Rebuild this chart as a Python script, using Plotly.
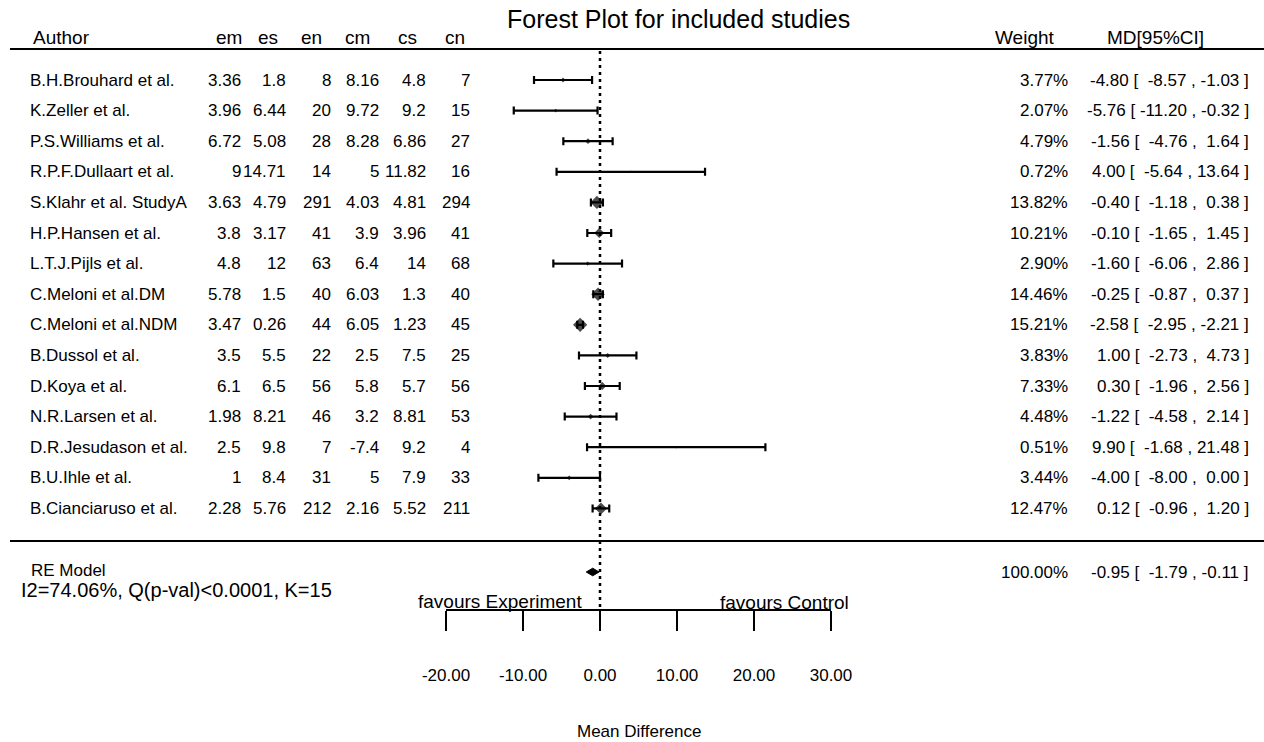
import plotly.graph_objects as go

# ---------------- data ----------------
authors = ["B.H.Brouhard et al.", "K.Zeller et al.", "P.S.Williams et al.", "R.P.F.Dullaart et al.",
           "S.Klahr et al. StudyA", "H.P.Hansen et al.", "L.T.J.Pijls et al.", "C.Meloni et al.DM",
           "C.Meloni et al.NDM", "B.Dussol et al.", "D.Koya et al.", "N.R.Larsen et al.",
           "D.R.Jesudason et al.", "B.U.Ihle et al.", "B.Cianciaruso et al."]
em = [3.36, 3.96, 6.72, 9, 3.63, 3.8, 4.8, 5.78, 3.47, 3.5, 6.1, 1.98, 2.5, 1, 2.28]
es = [1.8, 6.44, 5.08, 14.71, 4.79, 3.17, 12, 1.5, 0.26, 5.5, 6.5, 8.21, 9.8, 8.4, 5.76]
en = [8, 20, 28, 14, 291, 41, 63, 40, 44, 22, 56, 46, 7, 31, 212]
cm = [8.16, 9.72, 8.28, 5, 4.03, 3.9, 6.4, 6.03, 6.05, 2.5, 5.8, 3.2, -7.4, 5, 2.16]
cs = [4.8, 9.2, 6.86, 11.82, 4.81, 3.96, 14, 1.3, 1.23, 7.5, 5.7, 8.81, 9.2, 7.9, 5.52]
cn = [7, 15, 27, 16, 294, 41, 68, 40, 45, 25, 56, 53, 4, 33, 211]
weight = [3.77, 2.07, 4.79, 0.72, 13.82, 10.21, 2.90, 14.46, 15.21, 3.83, 7.33, 4.48, 0.51, 3.44, 12.47]
md = [-4.80, -5.76, -1.56, 4.00, -0.40, -0.10, -1.60, -0.25, -2.58, 1.00, 0.30, -1.22, 9.90, -4.00, 0.12]
ci_lo = [-8.57, -11.20, -4.76, -5.64, -1.18, -1.65, -6.06, -0.87, -2.95, -2.73, -1.96, -4.58, -1.68, -8.00, -0.96]
ci_hi = [-1.03, -0.32, 1.64, 13.64, 0.38, 1.45, 2.86, 0.37, -2.21, 4.73, 2.56, 2.14, 21.48, 0.00, 1.20]

re_md = -0.95
re_lo = -1.79
re_hi = -0.11
re_weight = 100.00
re_stats = "I2=74.06%, Q(p-val)<0.0001, K=15"

col_headers = ["em", "es", "en", "cm", "cs", "cn"]
tick_values = [-20, -10, 0, 10, 20, 30]

# ---------------- layout helpers ----------------
W, H = 1264, 742
FONT = "Liberation Sans, Arial, sans-serif"
ROW0, DROW = 80.0, 30.6


def yrow(px):
    return (px - ROW0) / DROW


def px_x(px):
    return px / W


def px_y(px):
    return 1 - px / H


rows = list(range(len(authors)))
summary_row = yrow(572)
NB = "\u00a0"

fig = go.Figure()

# study estimates with CIs
fig.add_trace(go.Scatter(
    x=md, y=rows, mode="markers",
    marker=dict(symbol="diamond", color="black",
                size=[0.62 * w + 1.5 for w in weight], line=dict(width=0)),
    error_x=dict(type="data", symmetric=False,
                 array=[h - m for h, m in zip(ci_hi, md)],
                 arrayminus=[m - l for m, l in zip(md, ci_lo)],
                 color="black", thickness=2.2, width=4),
    hoverinfo="skip", showlegend=False, cliponaxis=False,
))

# summary diamond
hh = 3.8 / DROW
fig.add_trace(go.Scatter(
    x=[re_lo, re_md, re_hi, re_md, re_lo],
    y=[summary_row, summary_row - hh, summary_row, summary_row + hh, summary_row],
    mode="lines", fill="toself", fillcolor="black",
    line=dict(color="black", width=1), hoverinfo="skip", showlegend=False,
))

shapes = [
    dict(type="line", xref="paper", yref="paper", x0=px_x(10), x1=1, y0=px_y(49), y1=px_y(49),
         line=dict(color="black", width=2)),
    dict(type="line", xref="paper", yref="paper", x0=px_x(10), x1=1, y0=px_y(541), y1=px_y(541),
         line=dict(color="black", width=2)),
    dict(type="line", xref="x", yref="y", x0=0, x1=0, y0=yrow(51), y1=yrow(610),
         line=dict(color="black", width=2.5, dash="3px,4px")),
]

ann = []


def add_text(text, x, y, size=17, xanchor="center", yref="paper"):
    ann.append(dict(text=text, x=x, y=y, xref="paper", yref=yref, showarrow=False,
                    xanchor=xanchor, yanchor="middle",
                    font=dict(family=FONT, size=size, color="black")))


# title and headers
add_text("Forest Plot for included studies", px_x(678), px_y(19), size=25)
add_text("Author", px_x(31), px_y(37), size=19, xanchor="left")
hdr_centers = [229, 268, 311, 357, 407, 455]
for h, c in zip(col_headers, hdr_centers):
    add_text(h, px_x(c), px_y(37), size=19)
add_text("Weight", px_x(1025), px_y(37), size=19)
add_text("MD[95%CI]", px_x(1155), px_y(37), size=19)

# table rows
col_right = [243, 288, 333, 381, 428, 472]
cols = [em, es, en, cm, cs, cn]


def fmt(v):
    return f"{v:g}"


def fmt_ci(m, l, h):
    s = f"{m:.2f} [ {l:6.2f} , {h:5.2f} ]"
    return s.replace(" ", NB)


for i, a in enumerate(authors):
    add_text(a, px_x(28), rows[i], xanchor="left", yref="y")
    for col, xr in zip(cols, col_right):
        add_text(fmt(col[i]), px_x(xr), rows[i], xanchor="right", yref="y")
    add_text(f"{weight[i]:.2f}%", px_x(1070), rows[i], xanchor="right", yref="y")
    add_text(fmt_ci(md[i], ci_lo[i], ci_hi[i]), px_x(1251), rows[i], xanchor="right", yref="y")

# summary
add_text("RE Model", px_x(29), px_y(570), size=17, xanchor="left")
add_text(re_stats, px_x(19), px_y(590), size=20, xanchor="left")
add_text(f"{re_weight:.2f}%", px_x(1070), summary_row, xanchor="right", yref="y")
add_text(fmt_ci(re_md, re_lo, re_hi), px_x(1251), summary_row, xanchor="right", yref="y")

# axis annotations
add_text("favours Experiment", px_x(416), px_y(601), size=19, xanchor="left")
add_text("favours Control", px_x(851), px_y(602), size=19, xanchor="right")
add_text("Mean Difference", px_x(639), px_y(731), size=17)

fig.update_layout(
    width=W, height=H, margin=dict(l=0, r=0, t=0, b=0, pad=0, autoexpand=False),
    paper_bgcolor="white", plot_bgcolor="white",
    shapes=shapes, annotations=ann, showlegend=False,
    font=dict(family=FONT, color="black"),
    xaxis=dict(domain=[px_x(446), px_x(831)], range=[-20, 30], anchor="free",
               position=px_y(610), showline=True, linewidth=2, linecolor="black",
               ticks="outside", ticklen=20, tickwidth=2, tickcolor="black",
               tickvals=tick_values, ticktext=[f"{v:.2f}" for v in tick_values],
               tickfont=dict(family=FONT, size=17, color="black"), automargin=False,
               ticklabelstandoff=30, showgrid=False, zeroline=False, fixedrange=True),
    yaxis=dict(domain=[0, 1], range=[yrow(H), yrow(0)], visible=False, automargin=False,
               showgrid=False, zeroline=False, fixedrange=True),
)

fig.write_html(
    "out.html",
    config={"displayModeBar": False},
    post_script="document.body.style.margin='0px';document.body.style.overflow='hidden';",
)
